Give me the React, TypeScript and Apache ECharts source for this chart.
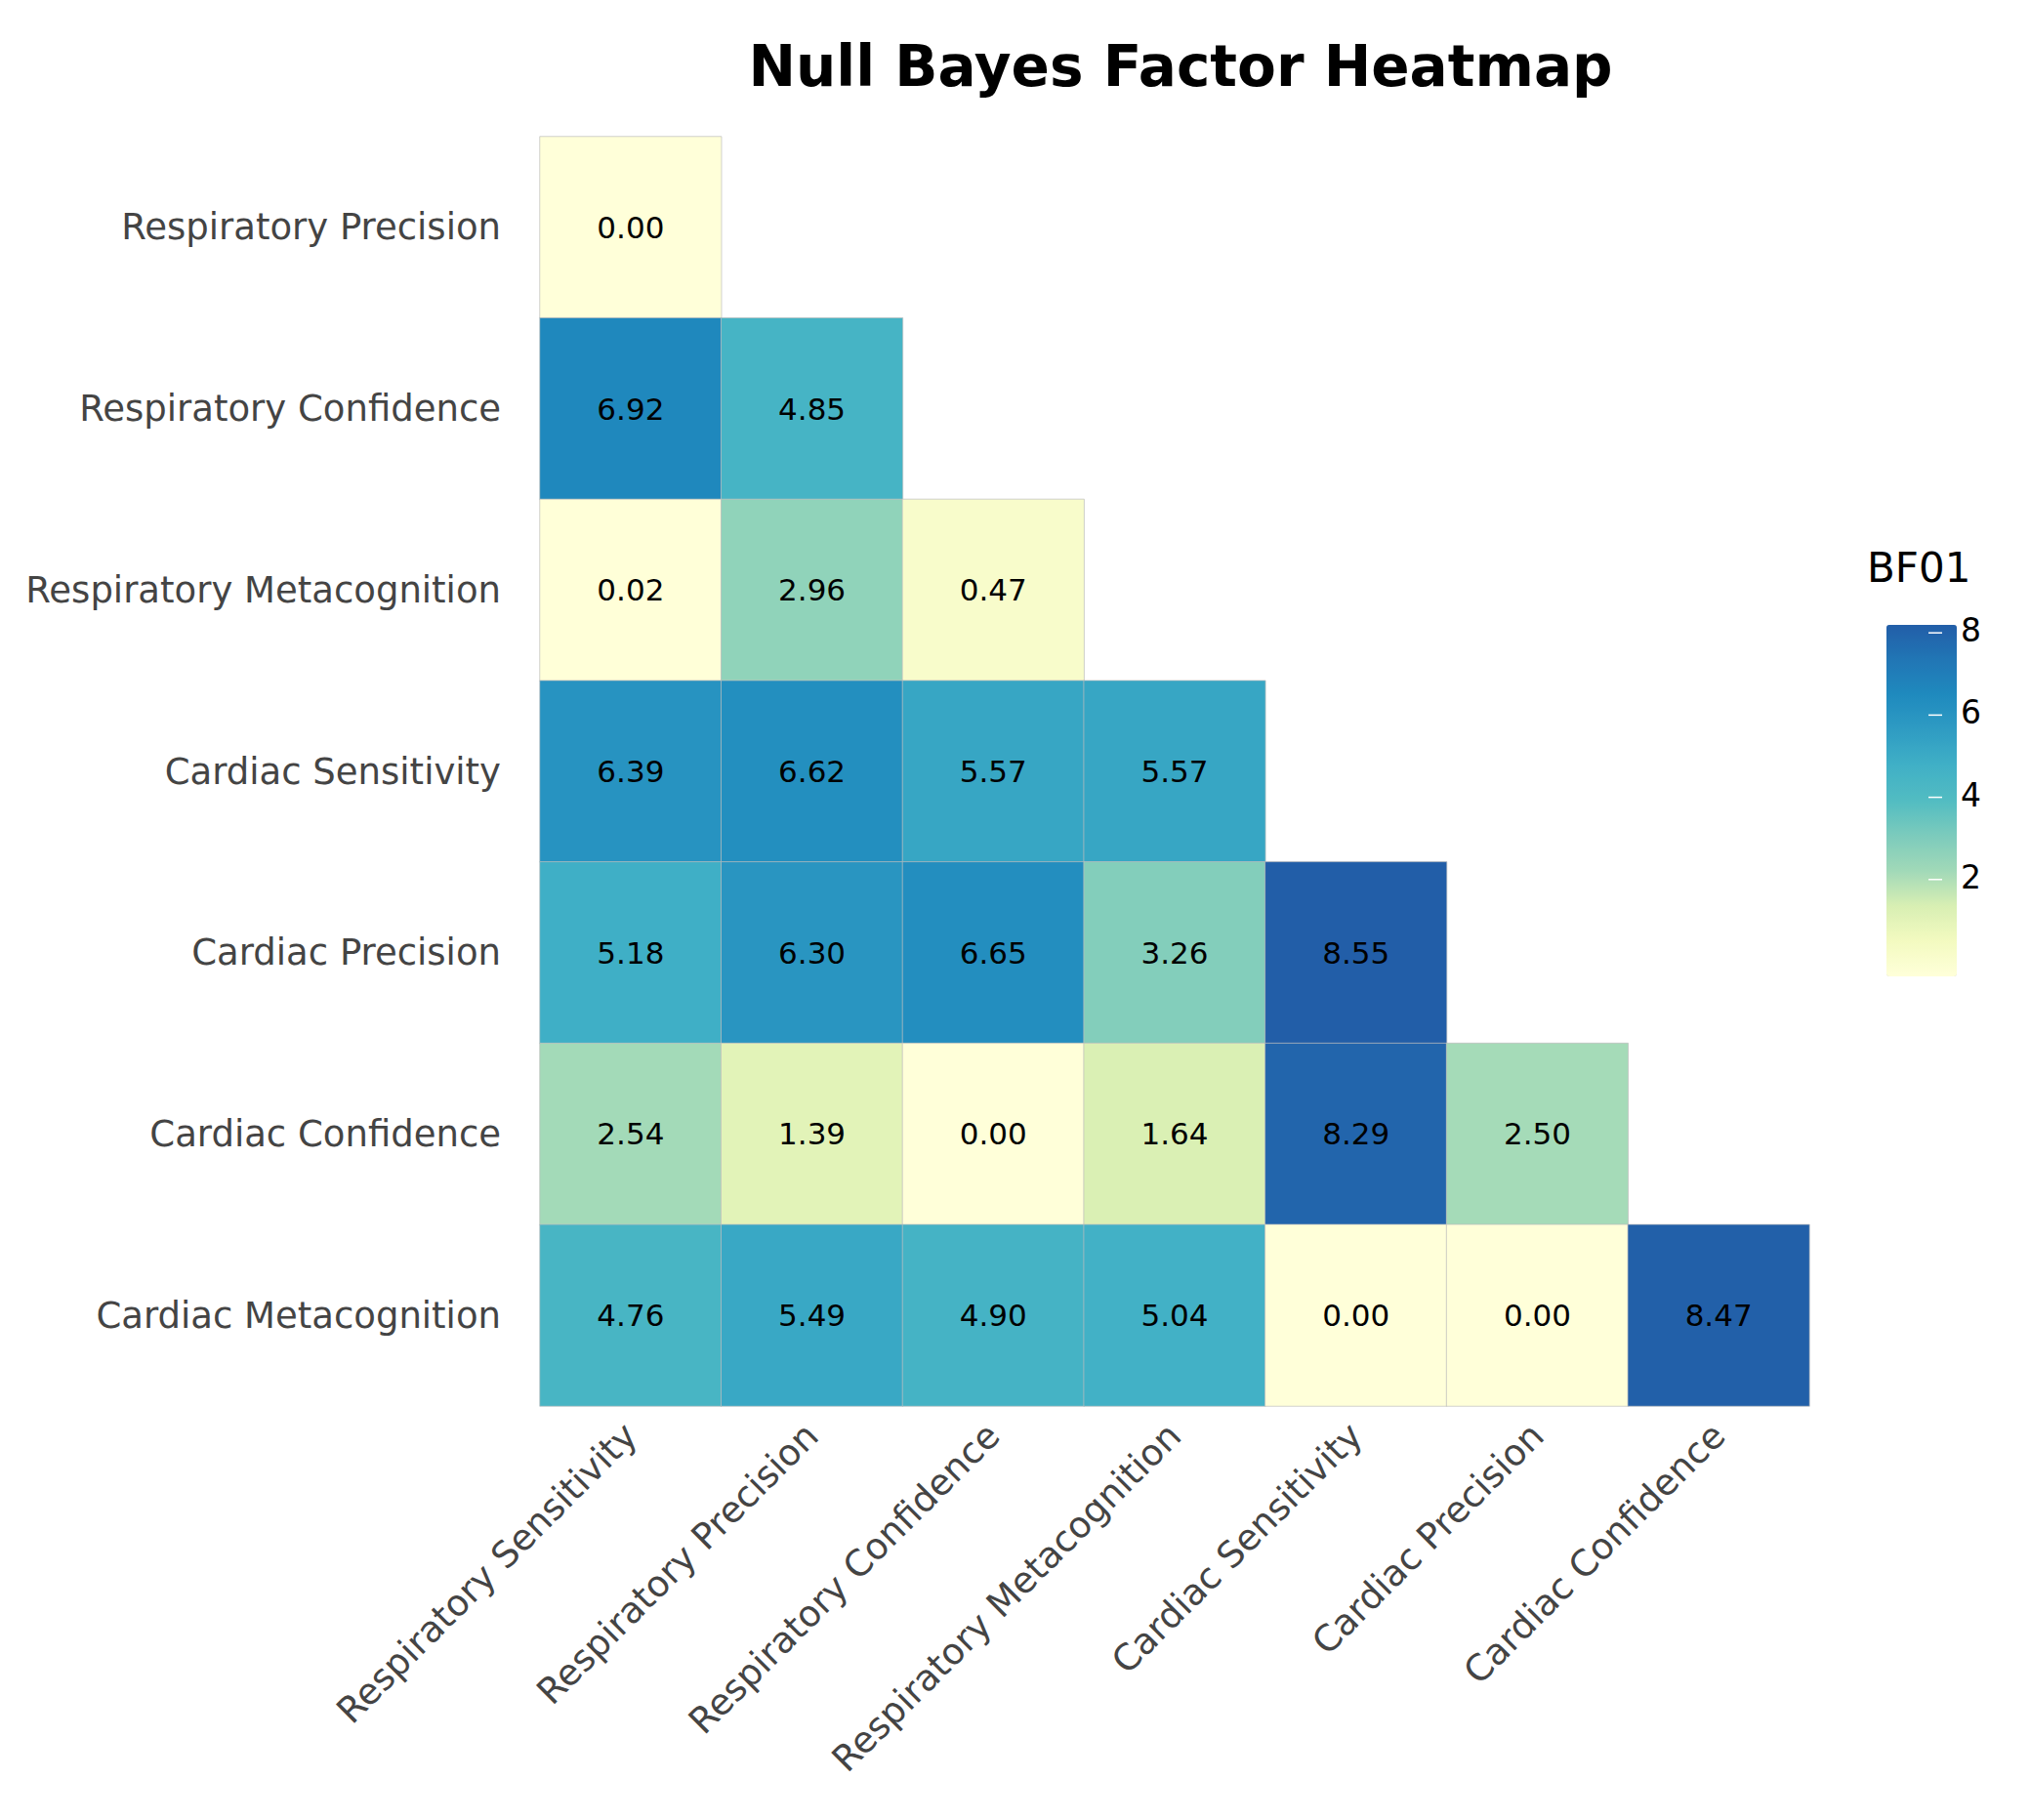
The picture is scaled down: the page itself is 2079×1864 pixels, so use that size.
import React, { useEffect, useRef } from 'react';
import * as echarts from 'echarts';

const xLabels = [
  'Respiratory Sensitivity',
  'Respiratory Precision',
  'Respiratory Confidence',
  'Respiratory Metacognition',
  'Cardiac Sensitivity',
  'Cardiac Precision',
  'Cardiac Confidence',
];
const yLabels = [
  'Respiratory Precision',
  'Respiratory Confidence',
  'Respiratory Metacognition',
  'Cardiac Sensitivity',
  'Cardiac Precision',
  'Cardiac Confidence',
  'Cardiac Metacognition',
];
// row i has i+1 values (lower triangle)
const rows: number[][] = [
  [0.0],
  [6.92, 4.85],
  [0.02, 2.96, 0.47],
  [6.39, 6.62, 5.57, 5.57],
  [5.18, 6.3, 6.65, 3.26, 8.55],
  [2.54, 1.39, 0.0, 1.64, 8.29, 2.5],
  [4.76, 5.49, 4.9, 5.04, 0.0, 0.0, 8.47],
];
const colorTicks = [2, 4, 6, 8];
const palette = ['#ffffd9', '#f3fac0', '#d8efb3', '#a1d9b8', '#7ccbbc', '#52bcc2', '#40b0c6', '#2f9cc3', '#1f8abe', '#2176b5', '#225ea8'];

const App: React.FC = () => {
  const ref = useRef<HTMLDivElement>(null);

  useEffect(() => {
    if (!ref.current) return;
    document.body.style.margin = '0';
    const chart = echarts.init(ref.current, null, { renderer: 'svg' });
    const data: number[][] = [];
    rows.forEach((r, yi) => r.forEach((v, xi) => data.push([xi, yi, v])));
    const vmax = 8.55;
    const barTop = 638, barH = 360, barL = 1931, barW = 72;

    const option: echarts.EChartsOption = {
      animation: false,
      backgroundColor: '#fff',
      title: {
        text: 'Null Bayes Factor Heatmap',
        left: 1204,
        textAlign: 'center',
        top: 34,
        textStyle: { fontFamily: 'DejaVu Sans', fontWeight: 'bold', fontSize: 58, color: '#000' },
      },
      grid: { left: 553, top: 140, width: 1300, height: 1300 },
      xAxis: {
        type: 'category',
        data: xLabels,
        axisLine: { show: false },
        axisTick: { show: false },
        splitLine: { show: false },
        axisLabel: { rotate: 45, interval: 0, fontSize: 37, color: '#444', fontFamily: 'DejaVu Sans', margin: 24 },
      },
      yAxis: {
        type: 'category',
        data: yLabels,
        inverse: true,
        axisLine: { show: false },
        axisTick: { show: false },
        splitLine: { show: false },
        axisLabel: { fontSize: 37, color: '#444', fontFamily: 'DejaVu Sans', margin: 40 },
      },
      visualMap: {
        type: 'continuous',
        min: 0,
        max: vmax,
        calculable: false,
        left: barL - 14,
        top: barTop - 13,
        itemWidth: barW,
        itemHeight: barH,
        text: ['', ''],
        showLabel: false,
        inRange: { color: palette },
      } as any,
      graphic: [
        {
          type: 'text',
          left: 1912,
          top: 560,
          style: { text: 'BF01', fontSize: 42, fill: '#000', fontFamily: 'DejaVu Sans' },
        },
        ...colorTicks.map((t) => ({
          type: 'text',
          left: 2008,
          top: barTop - 13 + barH - (t / vmax) * barH - 19,
          style: { text: String(t), fontSize: 33, fill: '#000', fontFamily: 'DejaVu Sans' },
        })),
        ...[0, barW - 14].map((dx) =>
          colorTicks.map((t) => ({
            type: 'line',
            shape: {
              x1: barL - 14 + dx,
              x2: barL - 14 + dx + 14,
              y1: barTop - 13 + barH - (t / vmax) * barH,
              y2: barTop - 13 + barH - (t / vmax) * barH,
            },
            style: { stroke: '#fff', lineWidth: 1.5 },
            z: 100,
          }))
        ).flat(),
      ] as any,
      series: [
        {
          type: 'heatmap',
          data,
          label: {
            show: true,
            formatter: (p: any) => p.value[2].toFixed(2),
            fontSize: 31,
            color: '#000',
            fontFamily: 'DejaVu Sans',
          },
          itemStyle: { borderColor: 'rgba(190,190,190,0.7)', borderWidth: 1 },
          emphasis: { disabled: true },
        } as any,
      ],
    };
    chart.setOption(option);
    return () => chart.dispose();
  }, []);

  return <div ref={ref} style={{ width: 2079, height: 1864 }} />;
};

export default App;
